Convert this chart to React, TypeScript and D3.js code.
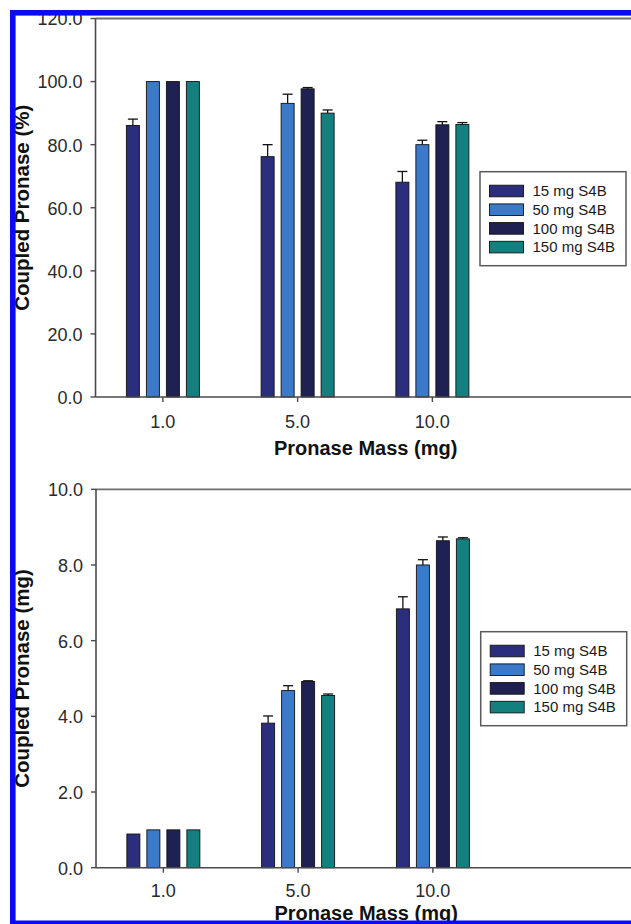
import React from "react";
import * as d3 from "d3";

const categories = ["1.0", "5.0", "10.0"];
const seriesNames = ["15 mg S4B", "50 mg S4B", "100 mg S4B", "150 mg S4B"];
const seriesColors = ["#2b2e7c", "#3b79c9", "#1f2152", "#13807f"];

// Top panel: Coupled Pronase (%)
const pct15 = [86.1, 76.2, 68.1];
const pct50 = [100, 93.1, 80.0];
const pct100 = [100, 97.7, 86.3];
const pct150 = [100, 90.0, 86.4];
const pctErr15 = [2.0, 3.8, 3.4];
const pctErr50 = [0, 2.9, 1.4];
const pctErr100 = [0, 0.4, 1.0];
const pctErr150 = [0, 1.0, 0.6];
const pctTicks = [0, 20, 40, 60, 80, 100, 120];

// Bottom panel: Coupled Pronase (mg)
const mg15 = [0.89, 3.82, 6.84];
const mg50 = [1.0, 4.68, 8.0];
const mg100 = [1.0, 4.92, 8.64];
const mg150 = [1.0, 4.55, 8.69];
const mgErr15 = [0, 0.19, 0.32];
const mgErr50 = [0, 0.13, 0.14];
const mgErr100 = [0, 0.02, 0.1];
const mgErr150 = [0, 0.04, 0.03];
const mgTicks = [0, 2, 4, 6, 8, 10];

const FONT = "'Liberation Sans', Arial, Helvetica, sans-serif";
const fmt = d3.format(".1f");

type PanelProps = {
  left: number;
  right: number;
  top: number;
  bottom: number;
  yMax: number;
  ticks: number[];
  means: number[][];
  errs: number[][];
  yTitle: string;
  tickOffset: number;
  titleOffset: number;
  legendX: number;
  legendY: number;
};

function Panel(p: PanelProps) {
  const x = d3
    .scaleBand<string>()
    .domain([...categories, "__empty__"])
    .range([p.left, p.right])
    .padding(0);
  const inner = d3
    .scaleBand<string>()
    .domain(seriesNames)
    .range([-36.5, 36.5])
    .paddingInner(0.35)
    .paddingOuter(0);
  const y = d3.scaleLinear().domain([0, p.yMax]).range([p.bottom, p.top]);
  const bw = inner.bandwidth();
  const axisColor = "#4a4a4a";
  const cy = (p.top + p.bottom) / 2;

  const legendRowH = 18.7;
  const legendW = 146;
  const legendH = 94;

  return (
    <g>
      {categories.map((c, ci) => {
        const cx = (x(c) as number) + x.bandwidth() / 2;
        return (
          <g key={c}>
            {seriesNames.map((s, si) => {
              const v = p.means[si][ci];
              const e = p.errs[si][ci];
              const bx = cx + (inner(s) as number);
              return (
                <g key={s}>
                  {e > 0 && (
                    <g stroke="#111" strokeWidth={1.3}>
                      <line x1={bx + bw / 2} x2={bx + bw / 2} y1={y(v)} y2={y(v + e)} />
                      <line x1={bx + bw / 2 - 5} x2={bx + bw / 2 + 5} y1={y(v + e)} y2={y(v + e)} />
                    </g>
                  )}
                  <rect
                    x={bx}
                    y={y(v)}
                    width={bw}
                    height={y(0) - y(v)}
                    fill={seriesColors[si]}
                    stroke="#111"
                    strokeWidth={0.9}
                  />
                </g>
              );
            })}
          </g>
        );
      })}
      <line x1={p.left} x2={p.right + 10} y1={p.top} y2={p.top} stroke="#6e6e6e" strokeWidth={1.8} />
      <line x1={p.left} x2={p.left} y1={p.top} y2={p.bottom} stroke={axisColor} strokeWidth={1.6} />
      <line x1={p.left} x2={p.right + 10} y1={p.bottom} y2={p.bottom} stroke={axisColor} strokeWidth={1.6} />
      {p.ticks.map((t) => (
        <g key={t}>
          <line x1={p.left - 5} x2={p.left} y1={y(t)} y2={y(t)} stroke={axisColor} strokeWidth={1.4} />
          <text
            x={p.left - 13}
            y={y(t)}
            dy="0.38em"
            textAnchor="end"
            fontFamily={FONT}
            fontSize={18}
            fill="#2a2a2a"
          >
            {fmt(t)}
          </text>
        </g>
      ))}
      {categories.map((c) => {
        const cx = (x(c) as number) + x.bandwidth() / 2;
        return (
          <g key={c}>
            <line x1={cx} x2={cx} y1={p.bottom} y2={p.bottom + 5} stroke={axisColor} strokeWidth={1.4} />
            <text
              x={cx}
              y={p.bottom + p.tickOffset}
              textAnchor="middle"
              fontFamily={FONT}
              fontSize={18}
              fill="#2a2a2a"
            >
              {c}
            </text>
          </g>
        );
      })}
      <text
        x={(x("5.0") as number) + x.bandwidth() / 2 + 68}
        y={p.bottom + p.titleOffset}
        textAnchor="middle"
        fontFamily={FONT}
        fontSize={20}
        fontWeight="bold"
        fill="#111"
      >
        Pronase Mass (mg)
      </text>
      <text
        transform={`translate(28.5,${cy}) rotate(-90)`}
        textAnchor="middle"
        fontFamily={FONT}
        fontSize={20.5}
        fontWeight="bold"
        fill="#111"
      >
        {p.yTitle}
      </text>
      <g transform={`translate(${p.legendX},${p.legendY})`}>
        <rect x={0} y={0} width={legendW} height={legendH} fill="#fff" stroke="#5a5a5a" strokeWidth={1.5} />
        {seriesNames.map((s, si) => {
          const ry = 19.3 + si * legendRowH;
          return (
            <g key={s}>
              <rect x={9.5} y={ry - 5.8} width={34} height={11.6} fill={seriesColors[si]} stroke="#111" strokeWidth={0.9} />
              <text x={52.5} y={ry} dy="0.36em" fontFamily={FONT} fontSize={15} fill="#1a1a1a">
                {s}
              </text>
            </g>
          );
        })}
      </g>
    </g>
  );
}

export default function App() {
  return (
    <svg
      width={631}
      height={924}
      style={{ position: "absolute", left: 0, top: 0, background: "#fff" }}
    >
      <rect x={0} y={0} width={631} height={924} fill="#fff" />
      <Panel
        left={95.5}
        right={634.5}
        top={18.5}
        bottom={397}
        yMax={120}
        ticks={pctTicks}
        means={[pct15, pct50, pct100, pct150]}
        errs={[pctErr15, pctErr50, pctErr100, pctErr150]}
        yTitle="Coupled Pronase (%)"
        tickOffset={31}
        titleOffset={58}
        legendX={480}
        legendY={171.7}
      />
      <Panel
        left={96}
        right={635}
        top={489.3}
        bottom={867.7}
        yMax={10}
        ticks={mgTicks}
        means={[mg15, mg50, mg100, mg150]}
        errs={[mgErr15, mgErr50, mgErr100, mgErr150]}
        yTitle="Coupled Pronase (mg)"
        tickOffset={29.5}
        titleOffset={52}
        legendX={480.7}
        legendY={631.7}
      />
      <rect x={12.8} y={12.8} width={640} height={910.5} fill="none" stroke="#0a0af5" strokeWidth={5.6} />
    </svg>
  );
}
